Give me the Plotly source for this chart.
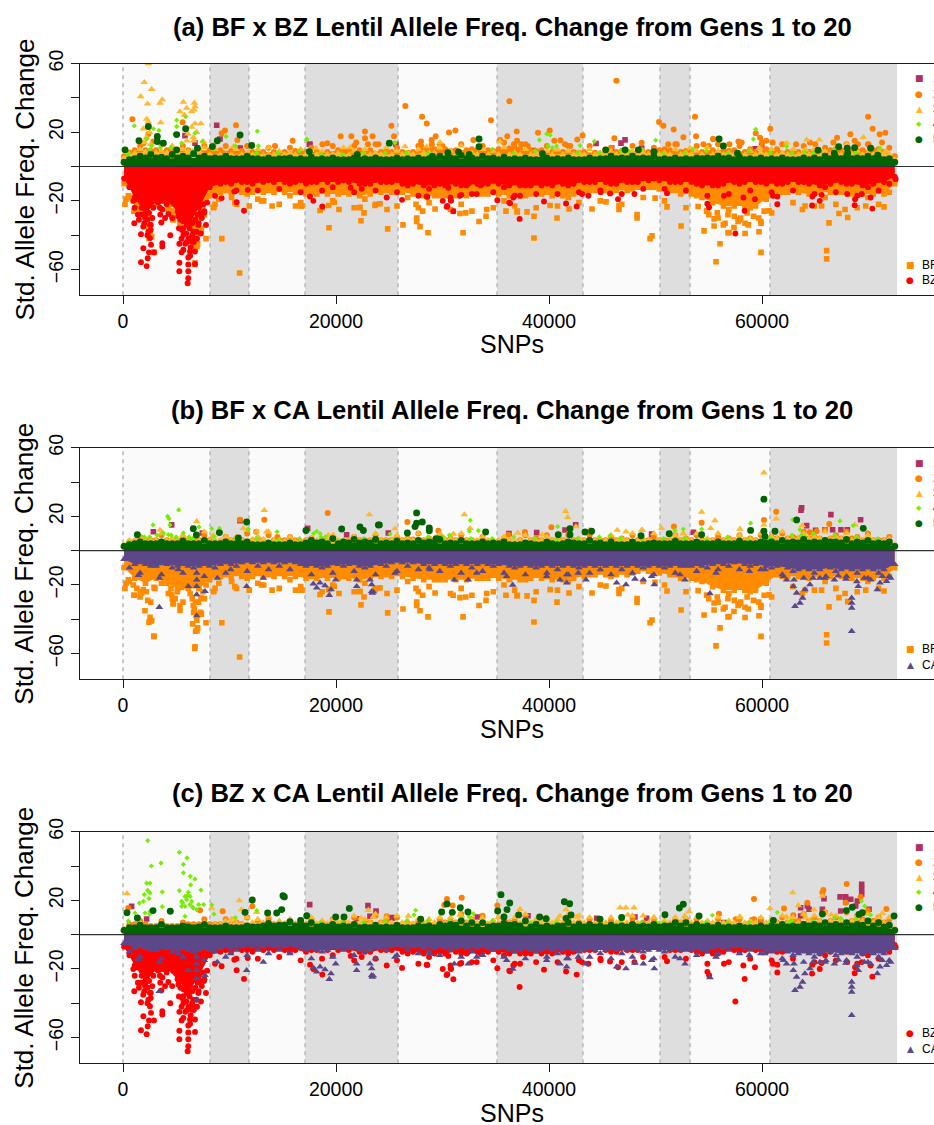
import plotly.graph_objects as go

W, H = 934, 1125
BIN_X = list(range(100, 72500, 1005))
RAG_X = list(range(600, 72900, 1005))
LIME_X = list(range(500, 72500, 2010))
CHROM_EDGES = [0, 8170, 11830, 17090, 25820, 35120, 43190, 50420, 53240, 60750, 72680]

# --- lower-half series (shared between panels) ---
BF_ENV = [-10,-16,-19,-16,-19,-22,-22,-22,-17,-15,
          -15,-15,-15,-15,-15,-15,-15,-16,-16,-16,
          -16,-16,-17,-16,-15,-15,-15,-16,-17,-17,
          -17,-17,-17,-16,-16,-16,-17,-17,-16,-16,
          -17,-17,-16,-15,-14,-14,-14,-14,-12,-12,
          -13,-14,-16,-16,-18,-21,-23,-23,-23,-23,
          -19,-14,-15,-15,-16,-15,-15,-15,-16,-16,
          -16,-16,-10]
BF_RAG = [-18,-24,-30,-19,-28,-30,-36,-28,-22,-14,
          -22,-16,-19,-14,-22,-17,-21,-15,-24,-20,
          -15,-24,-19,-22,-14,-23,-18,-24,-21,-17,
          -25,-22,-26,-16,-24,-20,-23,-17,-24,-15,
          -23,-18,-21,-14,-20,-15,-22,-13,-18,-12,
          -20,-14,-24,-17,-26,-30,-25,-31,-24,-32,
          -27,-15,-21,-14,-23,-18,-22,-15,-24,-18,
          -22,-15]
BZ_ENV = [-7,-18,-28,-20,-20,-26,-34,-24,-12,-10,
          -10,-9,-10,-9,-9,-9,-9,-10,-9,-9,
          -9,-9,-10,-10,-9,-9,-10,-10,-11,-11,
          -11,-10,-11,-10,-10,-10,-11,-11,-11,-11,
          -11,-10,-10,-9,-9,-9,-10,-9,-9,-8,
          -8,-9,-9,-9,-11,-11,-10,-9,-9,-9,
          -10,-10,-9,-9,-10,-11,-10,-9,-10,-11,
          -10,-9,-6]
BZ_RAG = [-12,-28,-34,-20,-30,-36,-42,-26,-17,-9,
          -14,-9,-14,-8,-13,-10,-15,-9,-14,-12,
          -8,-15,-10,-14,-9,-15,-11,-17,-13,-10,
          -18,-11,-16,-10,-15,-12,-17,-11,-16,-10,
          -16,-11,-15,-9,-14,-10,-16,-9,-13,-7,
          -13,-9,-14,-10,-17,-11,-16,-10,-14,-9,
          -15,-10,-14,-9,-16,-12,-15,-10,-17,-12,
          -14,-10]
CA_ENV = [-5,-8,-8,-9,-8,-9,-9,-9,-9,-8,
          -8,-7,-7,-7,-7,-7,-7,-9,-9,-9,
          -8,-8,-9,-9,-8,-7,-7,-7,-8,-8,
          -8,-8,-8,-8,-8,-8,-9,-9,-9,-9,
          -9,-9,-9,-9,-9,-9,-9,-9,-9,-9,
          -9,-9,-9,-9,-9,-8,-8,-7,-8,-8,
          -9,-9,-10,-11,-11,-11,-10,-11,-11,-11,
          -11,-11,-8]
CA_RAG = [-10,-13,-9,-14,-10,-13,-10,-15,-10,-13,
          -9,-12,-9,-11,-9,-11,-8,-14,-10,-13,
          -9,-12,-10,-14,-9,-12,-9,-11,-10,-12,
          -9,-13,-10,-12,-9,-13,-10,-14,-10,-13,
          -11,-14,-10,-13,-11,-14,-11,-13,-10,-14,
          -10,-13,-9,-12,-10,-11,-9,-11,-9,-11,
          -10,-14,-12,-16,-13,-16,-12,-15,-13,-16,
          -13,-15]
BF_PTS = [(10950,-62),(9280,-42),(7790,-42),(6730,-57),(2900,-50),(2060,-35),(6950,-46.6),(7360,-37),(190,-22),(280,-19),
 (1030,-26),(4700,-31),(8480,-24),(11850,-23),(10500,-21),(14000,-23),(13000,-20),(16200,-23),(3000,-22),(6800,-30),(2600,-41),
 (19340,-35.7),(24850,-36.3),(22350,-31.6),(26290,-34),(28640,-38.6),(31930,-38.6),(27890,-35),(27580,-30),(27580,-32),(33430,-32),
 (34080,-29),(32180,-27),(31640,-27.4),(31000,-26),(28140,-26),(29300,-24.7),(22630,-27),(22250,-24),(20280,-25),(18500,-25.6),
 (19310,-22.7),(24130,-21.7),(23660,-22.7),(24790,-25),(34150,-25),(27510,-22),(35960,-26),(37030,-26),(16810,-23),
 (38590,-41.6),(40750,-30),(38590,-29),(37940,-26.4),(37000,-26.4),(40100,-22.7),(41880,-24.7),(44040,-24.7),(46570,-25),(46570,-22.7),
 (45350,-20.6),(48270,-28),(48270,-30),(49670,-40.4),(49490,-42),(51080,-23.5),(52400,-34.6),(54560,-37.5),(55500,-34.6),(56060,-45),
 (55680,-55.5),(56810,-38.6),(56370,-34),(55500,-30.5),(56530,-33),(54000,-23.3),(49960,-18.4),
 (59910,-50),(59720,-38),(58410,-39),(56900,-38.4),(57750,-32),(57370,-35.5),(58410,-33),(58720,-34),(59910,-33),(66070,-49),
 (66070,-53.8),(66290,-32.8),(67230,-27.4),(68050,-29.7),(67800,-25),(71460,-23.5),(60660,-25.8),(63790,-25),(64040,-23),(65600,-23),(69740,-23),
 (6760,-56),(2910,-50),(6820,-47),(7010,-45),(6540,-42.7),(2540,-38.8),(2690,-40.8),(2440,-41.7),(2320,-29),(5350,-34.8),(5350,-32),
 (4730,-31),(7290,-36),(6920,-37),(6920,-40.6),(6600,-32),(1060,-26),(1750,-24.7),(1910,-22.7),(970,-20),(4570,-25.6),(4260,-25),
 (2910,-21.4),(5510,-21.4),(7320,-27.6),(8540,-23.7),(13210,-20),(16710,-23),(19840,-20.8),(22250,-23.7),
 (500,-17),(1300,-22),(1600,-27),(2200,-24),(4500,-22),(4900,-28),(5100,-24),(6300,-25),(6500,-28),(6700,-34),(7100,-30),(7500,-24),(7800,-20),
 (9000,-19),(10200,-18),(55000,-28),(55800,-27),(56800,-28),(57400,-29),(58000,-30),(58600,-27),(59200,-29),(59700,-30),(60200,-26),(54800,-26)]
BZ_PTS = [(6070,-68),(6130,-65),(6130,-61),(6130,-57),(6130,-53),(5290,-56),(5290,-61),(6760,-56.7),(6760,-49.5),(6290,-49.5),
 (5670,-48.5),(5290,-45),(4440,-40),(3690,-44.7),(3690,-46.6),(2910,-50),(2630,-45.6),(2440,-50),(2320,-53.4),(1910,-47.6),
 (1690,-55.7),(2220,-58),(1060,-33),(1690,-39.4),(7790,-34),(7320,-39),(4260,-27.6),(3600,-32.6),(2530,-41.7),(2380,-37.9),
 (11360,-25.8),(10670,-20.8),(9260,-18.4),(11710,-13.6),(10450,-14.6),(18720,-23.3),(17560,-17.5),(24760,-18),(970,-20),(2070,-30),
 (2530,-34),(1750,-24),(5980,-34),(5670,-39.8),(6450,-43.7),(7070,-34),(5200,-29),(6600,-37.9),(5670,-36),(6290,-30),(7540,-22),
 (3470,-24),(3790,-20),(1900,-35),(2300,-40),(1400,-28),(5500,-42),(6000,-44),(6500,-40),(6900,-38),(7000,-28),(5500,-50),(6300,-52),
 (1100,-24),(1300,-19),(1500,-31),(1800,-28),(2000,-33),(2150,-26),(2300,-31),(2450,-27),(2600,-37),(2750,-30),(2850,-24),
 (3300,-21),(3500,-28),(3700,-25),(3950,-30),(4100,-22),(5250,-36),(5400,-31),(5550,-37),(5700,-32),(5850,-45),(5950,-39),
 (6150,-42),(6250,-36),(6350,-47),(6500,-33),(6650,-44),(6800,-31),(6950,-42),(7100,-33),(7250,-27),(7400,-30),(7600,-27),(7900,-21),
 (31020,-26),(30450,-23),(30020,-20),(30770,-19.6),(26200,-19.4),(35150,-19.6),(37240,-30.5),(39530,-20.4),(41600,-21.5),(42600,-23.3),
 (36270,-21),(33210,-16),(31640,-17),(30550,-12.4),(28580,-17.7),(37280,-17),(17870,-20),(21380,-12.4),(22410,-13),(30390,-23.5),
 (28510,-17.5),(30800,-20),(31770,-16.5),(32430,-10),(33580,-11),(36340,-21.4),(36650,-18),(46480,-19),(48020,-16),(45730,-15.7),
 (44850,-15),(43700,-17),(51080,-15.5),(54870,-21.7),(55030,-23.7),(56430,-17),(43100,-16),
 (57500,-39),(58370,-25.8),(59340,-19),(58250,-18),(61440,-22),(61440,-17.5),(64700,-22.7),(64730,-17.5),(65420,-20),(65600,-16.5),
 (68700,-22.5),(68740,-19),(70360,-24.5),(70200,-18),(68000,-16),(69360,-16),(61030,-17),(72550,-7.4)]
CA_PTS = [(3410,-33),(3410,-16),(1440,-14.4),(6920,-13),(6920,-17),(6920,-20.8),(6130,-20.8),(7700,-23.7),(6920,-25.6),(6920,-38),
 (5200,-11),(10110,-11),(8860,-16),(11610,-20.8),(13180,-16),(18190,-21.7),(17870,-19.4),(18500,-18.8),(18970,-20.4),(19530,-22.7),
 (19370,-26),(19970,-17),(21940,-17),(21940,-20.8),(23190,-17),(23350,-23.7),(23350,-19.8),(23410,-24.7),(23500,-24),(25540,-13),
 (28820,-11),(31110,-17),(32420,-17),(33210,-13),(36590,-20),(36020,-15),(39780,-15),(41030,-17),(41660,-18.8),(41660,-14),(42750,-13),
 (43470,-17),(46350,-18.8),(47230,-19.8),(48070,-16.5),(48860,-17),(49890,-19.8),(49640,-15),(52300,-14),(52770,-17),(55110,-25),
 (55680,-13),(58810,-12),(60280,-11),(62310,-17),(62940,-20.8),(63250,-24.7),(63100,-32.4),(63560,-30.5),(63810,-27.6),(64030,-22.7),
 (64500,-19.8),(65440,-16),(67160,-14.6),(67880,-16.5),(68420,-27.6),(68420,-30.5),(68420,-33.4),(68420,-47),(69040,-20.8),(70830,-22.7),
 (72080,-16),(71700,-17.9),(71080,-18.8),(62000,-15),(63000,-17),(64800,-16),(66000,-15),(66800,-17),(68900,-18),(69600,-16),(70200,-17),(71300,-15)]

# --- panel (a) upper half ---
A_GREEN_ENV = [2.5,4.5,5,5,4.5,5,5,5,4.5,4.5, 4.5,4.5,4.5,4,4,4.5,4,4,4,4, 4,4,4,4,4,4,4,4,4,4,
               4.5,4.5,4.5,4,4.5,4,4,4,4,4, 4,4,4,4,4,4.5,4.5,4.5,4.5,4.5, 4,4,4,4,4.5,4.5,4.5,4,4,4,
               4,4,4,4,4,4,4.5,4.5,4.5,4.5, 4.5,4,2.5]
A_GREEN_RAG = [4,6,7,5.5,7,6,7.5,6,5,6, 4.5,6,4.5,5,4.5,5,4.5,5.5,4.5,5,
               4,5,4.5,5,4,5,4.5,5,4.5,6, 5,6.5,5,6,5,5.5,4.5,5,4,5,
               4.5,5,4,5,4.5,6,5,6,5,6, 4.5,5,4.5,5,5,6,5,5.5,4.5,5,
               4.5,5,4,5,5,6,5.5,6,5,6, 5,4.5]
A_ORANGE_ENV = [6,9.5,9.5,9.5,9.5,9.5,9.5,9.5,9.5,9.5, 9,9,8.5,8.5,8.5,8.5,9,8.5,8.5,8.5, 9.5,9.5,9.5,9.5,8.5,8.5,8.5,8.5,9.5,10,
                10,9.5,9.5,9.5,9.5,10,10.5,10,9.5,9.5, 8.5,8.5,8.5,8.5,8,8.5,8.5,8.5,8.5,8.5, 9.5,9.5,8.5,8.5,8.5,9.5,9.5,9.5,8.5,8.5,
                10,10,8.5,8.5,8.5,8.5,9.5,9.5,9.5,9.5, 9.5,8.5,6]
A_ORANGE_RAG = [8,12,9,13,10,12,8,12,9,12, 8,12,8,11,7,11,9,11,8,12,
                9,12,8,13,9,11,8,12,10,13, 9,13,10,12,9,14,11,13,9,12,
                8,12,8,12,7,11,9,12,8,11, 10,13,9,12,8,13,9,12,10,11,
                8,13,9,12,9,11,10,13,9,13, 10,11]
A_YELLOW_ENV = [5,8,8.5,8,8,8,9,9,7,7, 7,7,7,7,7,7,7,7,7,7, 8,7,7,7,7,7,7,7,8,8,
                7,7,7,7,7,7,7,7,7,7, 7,7,7,7,7,7,7,7,7,7, 7,7,7,7,7,7,7,7,7,7,
                7,7,7,7,7,7,7,7,7,7, 7,7,4]
A_YELLOW_RAG = [7,10,13,9,12,10,15,11,10,7, 10,8,10,7,9,8,10,7,9,7,
                11,9,10,8,11,9,8,10,8,11, 9,12,8,10,9,11,8,10,8,9,
                10,9,8,10,8,9,7,9,8,7, 8,10,8,9,11,9,8,7,9,8,
                10,8,10,8,10,9,8,10,9,8, 9,7]
A_LIME_RAG = [7,10,11,9,10,12,8,8,9,7,7,8,8,8,8,8,8,10,8,9,12,8,8,9,10,8,8,9,8,9,8,8,8,10,8,8]
A_MAROON = [(8800,24),(9110,16),(5820,18),(6760,13.6),(11000,10.7),(17560,13),(17500,13),(25630,13),(47140,15.5),(46760,13.6),
 (45890,10.7),(44420,13.4),(48700,10.7),(38530,9.3),(59970,12),(59350,10.3)]
A_ORANGE = [(26510,35.3),(28080,29),(28520,25),(34550,27),(36280,38),(25200,23.7),(22720,20.4),(20440,17.7),(21440,17.7),(22720,16.5),
 (23440,17.7),(25450,17.7),(29360,17.7),(30610,19.8),(31210,21),(36090,17.7),(36970,20.4),(19190,13.6),(18720,13),(27980,14.6),(28980,15.5),
 (32900,15.5),(35400,15.5),(46330,50),(53710,29),(50330,26),(50740,23.7),(51710,21.5),(52620,17),(53810,17.7),(38970,19.6),(40070,21),
 (43160,18),(46140,16.5),(42660,15.7),(41070,15.3),(48700,13.8),(55400,16),(69960,29),(70390,22),(60780,22),(59410,19.4),(59820,16.7),
 (68300,18.8),(71050,18.8),(71580,19.6),(68700,15),(67050,16.7),(55430,16),(57780,14.6),(58090,14),(71270,14),(56930,13),
 (880,27.6),(10610,24),(9580,21),(9260,19.4),(5600,25.8),(10740,15.5),(14270,12),(15930,15),(1910,13.6),(2380,19),(2850,14.6),(8480,12.2),
 (21900,14),(23000,13),(24000,13),(28000,12),(29000,13),(30000,12),(36700,13),(37000,15),(37400,13),(38000,12),(40500,15),(41500,13),(42000,12),
 (52000,13),(51200,13),(54500,13),(55000,12),(60000,14),(60400,15),(61000,14),(63200,13),(64500,14),(65000,13),(66700,14),(69000,13),(70000,13)]
A_YELLOW = [(2000,49),(2690,45),(1660,40.8),(2300,36.5),(3690,39),(3470,37),(5670,37.5),(6700,37),(6760,35),(5350,32),(5980,34),(6450,32),
 (6670,33),(2220,27.6),(2380,26),(3540,25.6),(7320,25),(6760,25),(1910,22),(5760,30),(6450,23),(6920,20),(2380,60),(7540,14.6),
 (10360,11.6),(13650,11),(21320,11),(18120,10.7),(28510,11.6),(29770,14),(26480,11.6),(35400,14.6),(40720,9.7),(53240,10.9),(59750,10.7),
 (64200,15.5),(65390,15.5),(69520,17),(62320,13.6),(64070,9.7),(67950,13),(71580,8.7),(2500,20),(2200,17),(2000,14),(6100,19),(6000,15),(6600,17)]
A_LIME = [(1060,23.7),(5040,27),(5880,29),(5040,23.3),(3380,21),(2850,22),(6760,19.4),(12610,20.6),(4880,19),(9670,17.5),(7450,14.6),(5510,13.6),
 (2220,16),(17250,15.5),(12710,12),(39100,15.5),(40100,18.4),(39780,19),(44260,14.6),(50020,15.3),(42910,12.2),(59410,21.7),(59190,16),
 (62320,11.6),(71080,10.7),(17250,16),(25540,13.8),(3500,11),(4500,11),(2700,12),(40300,11),(39900,12),(47500,9),(64000,8.5),(53500,10)]
A_DGREEN = [(2380,23.3),(5880,22),(5040,18.6),(1500,15),(190,9.7),(3220,17.5),(3220,14.6),(3790,13.6),(10990,18.4),(8860,15),(8390,11.6),(12080,12.2),
 (5040,9.7),(6990,10.7),(25010,13.6),(33430,16),(33430,11.5),(17500,8.7),(29050,6),(48390,9.7),(49860,8.7),(39380,7.4),(45320,9.7),(55970,16),
 (56370,12),(47140,9.7),(57690,7.8),(65260,9.5),(66790,7.8),(67200,11.5),(68000,10.7),(68050,7.8),(68700,11),(70200,10.7),(70860,6.6),
 (22000,7),(30500,8),(31500,8.5),(32500,7)]

# --- panel (b) upper half ---
B_GREEN_ENV = [2.5,4,4,4,4,4,4,4,4,4, 4,4,3.5,3.5,3.5,3.5,3.5,4.5,4.5,4, 4,4.5,4.5,4.5,4,4,4,4,4.5,4.5,
               4,4,4,4,4,4,3.5,3.5,4,3.5, 4,4,4.5,4,4,3.5,3.5,3.5,3.5,4, 4,4,4,4,4,4,4,4,4,4,
               4.5,4,4.5,4.5,4.5,4.5,5,4.5,4,4.5, 4,4,2.5]
B_GREEN_RAG = [3.5,5,4,5,4,5.5,4,6,4,5, 4,5,3.5,4.5,3.5,4.5,3.5,6,5,7,
               5,6.5,5,6.5,4.5,5.5,4.5,6,5,6.5, 4.5,6,4,5,4.5,5,3.5,4.5,3.5,5,
               3.5,5,4,6,4.5,5,3.5,5,3.5,4.5, 4,5.5,4,5,4,5,4,5.5,4,5,
               5,6,5,6.5,5,6,5,6.5,5,6, 4.5,5]
B_ORANGE_ENV = [3,5.5,6,6,6,6,6,6,6,5.5, 6,6,6,6,6,6,6,6,5.5,5.5, 5.5,6,6,6,6,6,6,6.5,6,6,
                6,6,6,5.5,5.5,5.5,5.5,6,6,6, 6,6,6,6,6,6,6,6,6,6, 6,6,6,6,6,6,6,6,6,6,
                6,7,7,7,7,7,7,7,7,6, 6,6,3]
B_ORANGE_RAG = [5,8,6,9,6,8,6,9,5,8, 7,10,7,9,6,8,5,7,6,8,
                5,8,6,9,6,8,7,10,7,9, 7,9,6,8,5,7,5,9,7,9,
                6,9,6,9,6,8,7,9,6,8, 6,9,7,9,6,8,7,9,7,9,
                8,10,8,11,8,12,9,11,8,10, 6,8]
B_YELLOW_ENV = [3,6,6,6,6,6,6,6,6,6, 6,6,6.5,6.5,6,5.5,5.5,6,6,6, 6,6,6,6,6,6,6,6,6,6,
                6,6,6,6,6,6,6,6,6,6, 6,6,6,6,6,6,6,6,6,6, 6,6,6,6,6,6,6,6,6,6,
                6,7,7,7,7,7,7,7,6,6, 6,6,3]
B_YELLOW_RAG = [6,8,6,10,7,9,6,11,6,8, 8,12,8,11,6,8,5,7,6,9,
                6,8,6,10,6,9,7,10,7,10, 7,10,6,8,6,8,6,9,6,8,
                7,10,7,12,6,9,7,10,7,10, 6,9,7,10,7,10,7,9,7,10,
                8,11,7,10,8,11,8,10,7,9, 6,7]
B_LIME_RAG = [5,8,9,7,8,7,7,6,7,8,6,7,6,10,8,9,7,7,8,7,6,7,8,7,7,7,7,6,8,6,7,9,10,9,8,7]
B_MAROON = [(4570,15),(2850,11),(7450,10.3),(10990,17.5),(17340,13),(21000,9.3),(36240,10),(38840,10.5),(42500,15),(41500,12),(49640,9.7),
 (24910,10.3),(63720,25),(63660,23.5),(66470,21),(69260,18),(64190,14.6),(65910,12.2),(66630,12.2),(67410,12.2),(68010,12.2),(65030,11.8),
 (49640,9.3),(53550,10.7)]
B_ORANGE = [(19220,22),(13270,18),(10990,18),(26700,16.7),(40220,13.6),(37740,10.9),(36180,9.3),(29610,11.6),(61340,22.7),(60180,17.9),(54330,16.3),
 (51730,14),(66320,15.5),(64500,10.7),(65130,11.3),(12500,11),(14500,8)]
B_YELLOW = [(6920,17),(13270,23.5),(23130,21),(11300,13),(3470,12),(8480,9),(12550,11),(13490,11),(19280,9),(19750,9),(32050,21),(41560,23),(41750,19.4),
 (32580,13),(25540,12.8),(31020,9.7),(37060,10.3),(39340,9.3),(46410,12),(47230,11),(48760,12),(42530,14),(60180,45.4),(54330,22.5),(55580,17.5),
 (61340,18.6),(55180,13),(57930,12.6),(60180,15),(50570,13),(48700,12),(63780,14.6),(68730,15),(52610,10)]
B_LIME = [(5230,23.7),(4190,20),(4320,18.6),(2820,15),(4410,15),(7140,13.8),(8330,12.8),(9050,13),(11770,12.6),(14460,11),(3790,10.3),(4260,9.3),(5670,10.3),
 (18180,11.3),(17900,10),(18500,10),(19000,8),(32610,17.7),(33360,11.7),(40810,14),(32520,11.3),(25070,9.7),(30080,8),(45730,8.7),(58930,16),(67320,17.3),
 (62880,18),(68570,14.6),(63560,12.2),(52610,12.6),(51830,11.8),(54330,12.6),(63700,9),(64000,8),(2000,8),(3200,9),(5000,8),(6200,8)]
B_DGREEN = [(1350,9.3),(6600,12.8),(6890,9.1),(9050,10.5),(11610,16.7),(20530,12.6),(22250,13.8),(23980,15),(22570,11.7),(17180,11.7),(10830,7.4),
 (27570,22),(27570,16),(28100,16.7),(24070,15),(28760,13.2),(27420,14),(26700,10.3),(34050,10.9),(28760,11.6),(41970,12.8),(44000,11.3),(43380,10.9),
 (41970,9.3),(48640,8.7),(40870,9.3),(29390,7),(60180,30),(60180,11.3),(58930,11.8),(63250,17.9),(69510,13),(61220,11.3),(54330,9.3),(51290,9.9),(60280,8.3)]

# --- panel (c) upper half ---
C_GREEN_ENV = [2.5,4,4,4,4,4,4.5,4.5,4,4, 4,4,4.5,5,5,5.5,5,5,4.5,4.5, 4.5,4.5,4,4,4,4,4,4,4.5,4,
               5,5.5,5,4.5,4.5,5,5.5,5,4.5,4, 4,5,4.5,4.5,4.5,4,4.5,4.5,4.5,4.5, 4.5,5,5,4.5,4.5,4,4,4,4,4,
               4,4.5,4.5,4.5,5,5,5,5,5,5.5, 5,4.5,2.5]
C_GREEN_RAG = [4,5.5,4,6,4,5,4,6,4,5, 4,5,4.5,6.5,5.5,7.5,6,7,5,6,
               5,6,4.5,5.5,4.5,5.5,4,5,5,6, 6,8,7,7,5,6.5,6,8,6,5,
               5,7,6,6,5,5.5,5,6,5,6, 5,7,7,6,5,5.5,4.5,5,4,5,
               5,6,5,6,6,7,6,7,6,8, 7,5.5]
C_ORANGE_ENV = [3,6,6,5,5,5,6,6,6,6, 6,6,6,6,6,6,6,6,6,6, 6,6,6,7,7,6,6,6,6,6,
                7,7,7,6,6,6,7,6,6,6, 6,6,6,6,6,6,6,6,6,6, 6,6,7,6,6,6,6,6,6,6,
                6,7,7,8,8,8,8,8,8,9, 8,7,3]
C_ORANGE_RAG = [6,8,5,8,5,7,6,9,6,9, 7,10,7,9,6,8,6,9,7,9,
                7,10,8,11,8,10,6,8,6,9, 8,12,9,11,7,9,8,11,7,9,
                6,9,7,9,6,8,6,9,7,9, 6,9,9,9,7,9,7,9,7,9,
                7,10,9,12,10,13,10,13,11,14, 10,9]
C_YELLOW_ENV = [3,5,5,5,5,5,5,5,5,6, 6,6,7,7,6.5,6.5,6.5,6.5,6.5,6.5, 7,7,7,7,7,7,7,6.5,7,7,
                7,7,7,7,6.5,7,7,7,7,7, 7,7,7,7,6.5,7,7,7,7,7, 6.5,7,7,7,7,7,7,7,7,7,
                7,7,7,7,8,8,8,8,8,8, 7,7,3]
C_YELLOW_RAG = [5,7,5,7,5,6,5,7,6,8, 7,10,9,11,8,9,8,10,8,9,
                9,11,9,12,10,11,8,9,9,10, 10,11,9,10,8,11,10,12,9,10,
                9,12,11,10,8,10,9,11,11,10, 8,10,9,10,8,10,8,10,8,10,
                9,11,10,12,11,13,11,13,11,12, 10,10]
C_LIME_RAG = [8,12,14,16,12,10,14,13,9,7,7,7,8,8,8,8,8,8,7,7,7,7,8,8,7,7,7,7,7,7,7,8,8,10,9,7]
C_MAROON = [(810,16.5),(17530,17.5),(23000,16.9),(23760,13.8),(23190,10.7),(25290,9.7),(21940,9.3),(2220,9.1),(25230,10),(38030,11),(33270,10.3),
 (49170,9.5),(44480,9.5),(48070,10.3),(69360,29.3),(69360,26.4),(69360,23.5),(67330,22),(67860,22),(67860,19),(65820,21),(64260,16.7),(63630,15.7),
 (64420,14.8),(65670,14.8),(70050,14.8),(68950,19.6),(68800,16.7),(67390,13.8),(68330,20.6),(63630,10.9),(59100,8.3),(59880,8.3),(56430,7)]
C_ORANGE = [(500,15.5),(9360,13.6),(7230,14.2),(24760,10.7),(12140,16.5),(31800,21.5),(30420,20.8),(30950,17),(35150,17),(30170,17.3),(67950,29.5),
 (65760,26),(59250,20.8),(64260,18.6),(69260,22),(62070,15.3),(71680,15),(55960,12.2),(59250,9),(57530,9),(62940,11.3),(67860,18.6),(65670,24.5)]
C_YELLOW = [(370,23.9),(10920,19.8),(8330,15.5),(23040,14.2),(22340,9.7),(23500,10.3),(12550,13),(11140,14.6),(10200,9.1),(37280,14.8),(41600,14.6),
 (41030,10.9),(42600,10.3),(46670,15.7),(47230,15.7),(47980,15.7),(47390,11.5),(49860,10),(35240,10),(26790,10.9),(31640,11.5),(62880,24.5),(65670,22.5),
 (60750,15.3),(63410,17),(64880,14.6),(66510,11.5),(71300,12.4),(57930,10.5),(53150,13.4),(62320,10.3),(64100,10),(52740,10.9)]
C_LIME = [(2320,54.8),(5290,48),(6010,44.7),(3570,41.7),(2660,40),(5670,41),(5670,36),(6320,34),(6760,32.4),(6350,29),(2220,30),(2530,30),(2320,25.8),
 (2000,23.3),(2530,24.3),(2440,21),(1910,19.4),(1530,18.4),(3690,24.9),(5290,25.6),(7320,26),(6130,24.7),(5820,22.3),(6290,22.3),(5980,20.4),(5600,18.4),
 (6450,19.4),(5510,16.5),(7100,17.5),(7570,17.5),(3690,16.3),(6600,15.5),(6920,14.6),(8330,17.3),(2530,13.6),(5820,10.7),(1130,12.6),(6290,17.5),(6040,22.7),
 (5510,19.4),(5820,16.5),(2070,12.6),(27480,14.2),(27320,11.5),(31830,9.5),(32900,12.2),(32490,10.3),(38280,6.6),(33520,6),(61440,13),(55340,11.3),(69330,19.6),
 (69640,16.7),(67390,9.5),(62540,7),(50110,7),(70200,11.5)]
C_DGREEN = [(15020,22.7),(14900,14.6),(12140,20.2),(11460,13),(21250,15.3),(370,12.8),(1350,9.7),(2820,14),(4440,13.6),(13580,12.6),(14430,12.6),(16680,8.2),
 (17250,11),(19970,10.3),(20750,10.3),(15150,22),(35490,23.3),(36310,18.4),(36060,14.6),(35180,13.8),(41440,19.2),(41940,18),(30420,17.9),(31670,15.7),(32390,13.2),
 (29920,13.2),(30920,13),(39120,10.3),(39720,9.3),(42070,11.5),(35770,10.3),(37150,11.5),(41600,9.5),(50890,11.6),(44790,9),(46820,10),(27950,9),(52610,17.7),
 (52240,15.5),(54090,10.9),(72400,10.9),(65670,12),(68480,16),(67920,14),(69420,12.8),(69110,11.8),(61070,8.3)]

# --- text ---
TITLES = ["(a) BF x BZ Lentil Allele Freq. Change from Gens 1 to 20",
          "(b) BF x CA Lentil Allele Freq. Change from Gens 1 to 20",
          "(c) BZ x CA Lentil Allele Freq. Change from Gens 1 to 20"]
Y_TICKS = [60, 40, 20, 0, -20, -40, -60]
Y_TEXT = ["60", "", "20", "", "\u221220", "", "\u221260"]
X_TICKS = [0, 20000, 40000, 60000]
X_TEXT = ["0", "20000", "40000", "60000"]
PEAK_KEYS = ["1", "2", "3", "4", "5"]

# --- style ---
COL = dict(maroon="#B03060", orange="#FF7F00", yellow="#FFB92E", lime="#76EE00",
           dgreen="#006400", bf="#FF8C00", bz="#FF0000", ca="#5D478B")
SYM = dict(maroon=("square", 5.6), orange=("circle", 6), yellow=("triangle-up", 6.8), lime=("diamond", 4),
           dgreen=("circle", 6.9), bf=("square", 5.6), bz=("circle", 5.9), ca=("triangle-up", 6.8))
GLYPH = dict(maroon="\u25A0", orange="\u25CF", yellow="\u25B2", lime="\u25C6", dgreen="\u25CF",
             bf="\u25A0", bz="\u25CF", ca="\u25B2")
TOPS = [63.5, 447.7, 831.7]
BOT = [295.3, 679.3, 1063.3]
TITLE_Y = [27, 410, 793]
FONT = "Liberation Sans, Arial, sans-serif"

fig = go.Figure()

def pts(key, pairs, axn, name):
    s, z = SYM[key]
    fig.add_trace(go.Scatter(x=[p[0] for p in pairs], y=[p[1] for p in pairs], mode="markers", name=name,
                             marker=dict(color=COL[key], symbol=s, size=z), xaxis="x" + axn, yaxis="y" + axn,
                             showlegend=False, hoverinfo="skip"))

def rag(key, xs, vals, axn, name):
    s, z = SYM[key]
    fig.add_trace(go.Scatter(x=xs, y=vals, mode="markers", name=name,
                             marker=dict(color=COL[key], symbol=s, size=z), xaxis="x" + axn, yaxis="y" + axn,
                             showlegend=False, hoverinfo="skip"))

def env(key, vals, axn, name):
    s, z = SYM[key]
    fig.add_trace(go.Scatter(x=BIN_X, y=vals, mode="lines+markers", name=name, fill="tozeroy", fillcolor=COL[key],
                             line=dict(width=0, shape="linear", color=COL[key]),
                             marker=dict(color=COL[key], symbol=s, size=z), xaxis="x" + axn, yaxis="y" + axn,
                             showlegend=False, hoverinfo="skip"))

def lower(key, envv, ragv, points, axn, name):
    rag(key, RAG_X, ragv, axn, name + " edge")
    env(key, envv, axn, name + " band")
    pts(key, points, axn, name)

def upper(axn, mar, orenv, orrag, org, ylenv, ylrag, yl, limr, lim, grenv, grrag, gr):
    pts("maroon", mar, axn, "1")
    rag("orange", RAG_X, orrag, axn, "2 edge"); env("orange", orenv, axn, "2 band"); pts("orange", org, axn, "2")
    rag("yellow", RAG_X, ylrag, axn, "3 edge"); env("yellow", ylenv, axn, "3 band"); pts("yellow", yl, axn, "3")
    rag("lime", LIME_X, limr, axn, "4 edge"); pts("lime", lim, axn, "4")
    rag("dgreen", RAG_X, grrag, axn, "5 edge"); env("dgreen", grenv, axn, "5 band"); pts("dgreen", gr, axn, "5")

lower("bf", BF_ENV, BF_RAG, BF_PTS, "", "BF")
lower("bz", BZ_ENV, BZ_RAG, BZ_PTS, "", "BZ")
upper("", A_MAROON, A_ORANGE_ENV, A_ORANGE_RAG, A_ORANGE, A_YELLOW_ENV, A_YELLOW_RAG, A_YELLOW, A_LIME_RAG, A_LIME, A_GREEN_ENV, A_GREEN_RAG, A_DGREEN)
lower("bf", BF_ENV, BF_RAG, BF_PTS, "2", "BF")
lower("ca", CA_ENV, CA_RAG, CA_PTS, "2", "CA")
upper("2", B_MAROON, B_ORANGE_ENV, B_ORANGE_RAG, B_ORANGE, B_YELLOW_ENV, B_YELLOW_RAG, B_YELLOW, B_LIME_RAG, B_LIME, B_GREEN_ENV, B_GREEN_RAG, B_DGREEN)
lower("bz", BZ_ENV, BZ_RAG, BZ_PTS, "3", "BZ")
lower("ca", CA_ENV, CA_RAG, CA_PTS, "3", "CA")
upper("3", C_MAROON, C_ORANGE_ENV, C_ORANGE_RAG, C_ORANGE, C_YELLOW_ENV, C_YELLOW_RAG, C_YELLOW, C_LIME_RAG, C_LIME, C_GREEN_ENV, C_GREEN_RAG, C_DGREEN)

layout = dict(width=W, height=H, margin=dict(l=0, r=0, t=0, b=0, autoexpand=False), showlegend=False,
              paper_bgcolor="white", plot_bgcolor="white", hovermode=False, font=dict(family=FONT, color="black"))
shapes, annos = [], []
LOW_KEYS = [("BF", "bf"), ("BZ", "bz")], [("BF", "bf"), ("CA", "ca")], [("BZ", "bz"), ("CA", "ca")]
PEAK_COLS = ["maroon", "orange", "yellow", "lime", "dgreen"]

def paper(px, py):
    return px / W, 1 - py / H

for i, suf in enumerate(["", "2", "3"]):
    xname, yname = "xaxis" + suf, "yaxis" + suf
    xr, yr = "x" + suf, "y" + suf
    layout[xname] = dict(domain=[80 / W, 1], range=[-4038, 76150], anchor=yr, showgrid=False, zeroline=False,
                         showline=True, linecolor="#1a1a1a", linewidth=1, mirror=True,
                         ticks="outside", ticklen=8, tickcolor="#1a1a1a", tickwidth=1,
                         tickvals=X_TICKS, ticktext=X_TEXT, tickfont=dict(size=19.5, family=FONT), fixedrange=True)
    layout[yname] = dict(domain=[1 - BOT[i] / H, 1 - TOPS[i] / H], range=[-75, 60], anchor=xr, showgrid=False, zeroline=False,
                         showline=True, linecolor="#1a1a1a", linewidth=1,
                         ticks="outside", ticklen=8, tickcolor="#1a1a1a", tickwidth=1,
                         tickvals=Y_TICKS, ticktext=Y_TEXT, tickangle=-90, tickfont=dict(size=19.5, family=FONT), fixedrange=True)
    for j in range(len(CHROM_EDGES) - 1):
        shapes.append(dict(type="rect", xref=xr, yref=yr + " domain", x0=CHROM_EDGES[j], x1=CHROM_EDGES[j + 1], y0=0, y1=1,
                           fillcolor="#DEDEDE" if j % 2 else "#FAFAFA", line=dict(width=0), layer="below"))
        shapes.append(dict(type="line", xref=xr, yref=yr + " domain", x0=CHROM_EDGES[j], x1=CHROM_EDGES[j], y0=0, y1=1,
                           line=dict(color="#B8B8B8", width=1.5, dash="4px,4px"), layer="below"))
    shapes.append(dict(type="line", xref=xr + " domain", yref=yr, x0=0, x1=1, y0=0, y1=0,
                       line=dict(color="#333333", width=1.2), layer="above"))
    # text
    x, y = paper(512, TITLE_Y[i])
    annos.append(dict(text=TITLES[i], x=x, y=y, xref="paper", yref="paper", showarrow=False, xanchor="center", yanchor="middle",
                      font=dict(size=25.6, family=FONT, color="black", weight="bold")))
    x, y = paper(512, TOPS[i] + 281)
    annos.append(dict(text="SNPs", x=x, y=y, xref="paper", yref="paper", showarrow=False, xanchor="center", yanchor="middle",
                      font=dict(size=25, family=FONT, color="black")))
    x, y = paper(24, TOPS[i] + 116)
    annos.append(dict(text="Std. Allele Freq. Change", x=x, y=y, xref="paper", yref="paper", showarrow=False, textangle=-90,
                      xanchor="center", yanchor="middle", font=dict(size=26, family=FONT, color="black")))
    # keys
    for k, (lab, key) in enumerate(zip(PEAK_KEYS, PEAK_COLS)):
        x, y = paper(919, TOPS[i] + 15 + 15.1 * k)
        annos.append(dict(text=GLYPH[key], x=x, y=y, xref="paper", yref="paper", showarrow=False, xanchor="center", yanchor="middle",
                          font=dict(size={"lime": 7, "yellow": 9}.get(key, 9), family="DejaVu Sans", color=COL[key])))
        x, y = paper(930.5, TOPS[i] + 15 + 15.1 * k)
        annos.append(dict(text=lab, x=x, y=y, xref="paper", yref="paper", showarrow=False, xanchor="left", yanchor="middle",
                          font=dict(size=12, family=FONT, color="black")))
    for k, (lab, key) in enumerate(LOW_KEYS[i]):
        x, y = paper(910, TOPS[i] + 201.5 + 15.5 * k)
        annos.append(dict(text=GLYPH[key], x=x, y=y, xref="paper", yref="paper", showarrow=False, xanchor="center", yanchor="middle",
                          font=dict(size=9, family="DejaVu Sans", color=COL[key])))
        x, y = paper(920, TOPS[i] + 201.5 + 15.5 * k)
        annos.append(dict(text=lab, x=x, y=y, xref="paper", yref="paper", showarrow=False, xanchor="left", yanchor="middle",
                          font=dict(size=12, family=FONT, color="black")))

layout["shapes"] = shapes
layout["annotations"] = annos
fig.update_layout(**layout)
fig.write_html("out.html", config=dict(displayModeBar=False), post_script="document.body.style.margin='0';")
